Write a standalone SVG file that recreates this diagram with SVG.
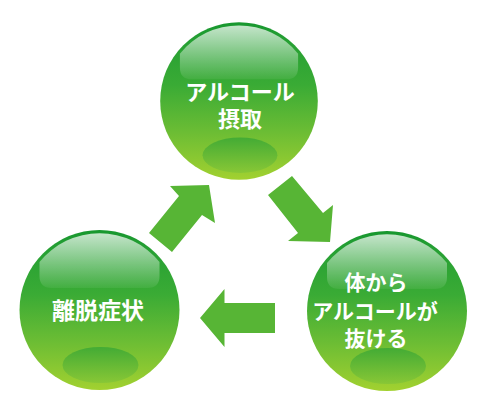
<svg xmlns="http://www.w3.org/2000/svg" width="480" height="410" viewBox="0 0 480 410">
  <defs>
    <linearGradient id="ball" x1="0" y1="0" x2="0" y2="1">
      <stop offset="0" stop-color="#17972f"/>
      <stop offset="0.12" stop-color="#26a033"/>
      <stop offset="0.4" stop-color="#3aab35"/>
      <stop offset="0.7" stop-color="#6cbd34"/>
      <stop offset="1" stop-color="#a2d130"/>
    </linearGradient>
    <linearGradient id="shine" x1="0" y1="0" x2="0" y2="1">
      <stop offset="0" stop-color="#ffffff" stop-opacity="0.75"/>
      <stop offset="1" stop-color="#ffffff" stop-opacity="0.06"/>
    </linearGradient>
    <linearGradient id="glow" x1="0" y1="0" x2="0" y2="1">
      <stop offset="0" stop-color="#3ea935"/>
      <stop offset="1" stop-color="#86c636"/>
    </linearGradient>
    <g id="sphere">
      <circle cx="0" cy="0" r="80" fill="url(#ball)"/>
      <path d="M-60,-48 A77,77 0 0 1 60,-48 L60,-34 Q60,-22 48,-22 L-48,-22 Q-60,-22 -60,-34 Z" fill="url(#shine)"/>
      <ellipse cx="1" cy="55" rx="38" ry="18" fill="url(#glow)" opacity="0.9"/>
    </g>
  </defs>
  <style>
    .lbl { font-family: "Noto Sans CJK JP", "Noto Sans", sans-serif; font-weight: bold; fill: #ffffff; text-anchor: middle; font-size: 22px; }
    .arrow { fill: #57b535; }
  </style>

  <g id="connectors">
    <polygon class="arrow" points="149,233 172,252 202,215 215,223 209,185 170,186 179,196"/>
    <polygon class="arrow" points="268,195 292,176 323,213 333,205 330,242 288,241 298,233"/>
    <polygon class="arrow" points="275,303 224.5,303 224.5,289 200,318 224.5,347 224.5,333 275,333"/>
  </g>

  <g id="node-intake">
    <use href="#sphere" transform="translate(239,101) scale(0.985)"/>
    <text class="lbl"><tspan x="240" y="100">アルコール</tspan><tspan x="240" y="127">摂取</tspan></text>
  </g>

  <g id="node-withdrawal">
    <use href="#sphere" transform="translate(99.5,310)"/>
    <text class="lbl" x="98" y="319" style="font-size:23px">離脱症状</text>
  </g>

  <g id="node-clearance">
    <use href="#sphere" transform="translate(387,311)"/>
    <text class="lbl" style="font-size:21px"><tspan x="376" y="290">体から</tspan><tspan x="375" y="319">アルコールが</tspan><tspan x="376" y="346">抜ける</tspan></text>
  </g>
</svg>
